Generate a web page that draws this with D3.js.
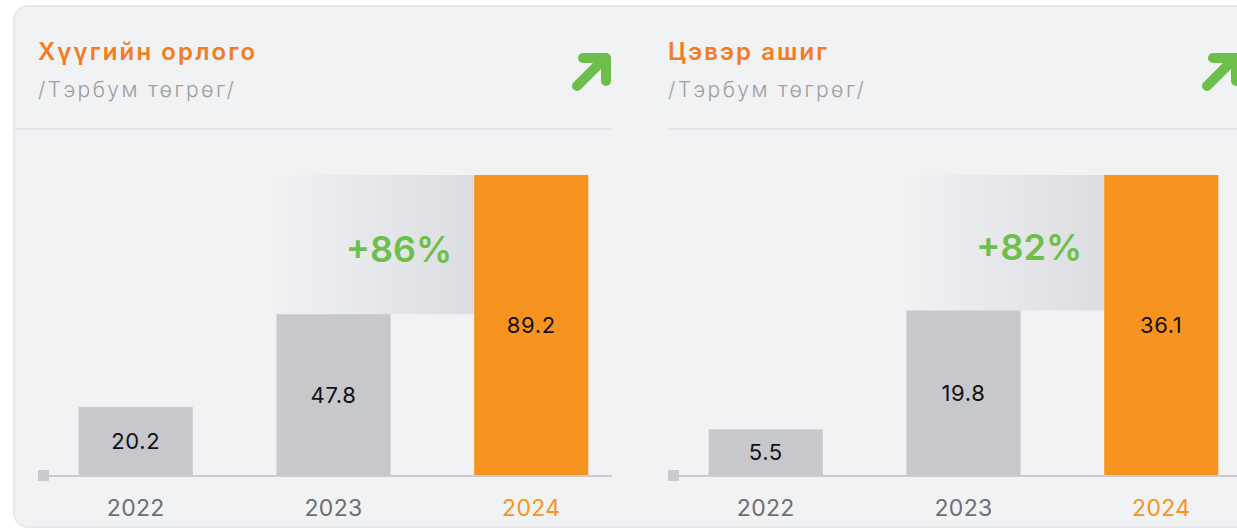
<!DOCTYPE html>
<html>
<head>
<meta charset="utf-8">
<script src="https://cdn.jsdelivr.net/npm/d3@7"></script>
<style>
  html, body { margin: 0; padding: 0; background: #fff; }
  svg { display: block; font-family: "Inter", "Open Sans", sans-serif; }
</style>
</head>
<body>
<div id="chart"></div>
<script>
var years = ["2022", "2023", "2024"];
var revenue = [20.2, 47.8, 89.2];
var profit = [5.5, 19.8, 36.1];
var titles = ["Хүүгийн орлого", "Цэвэр ашиг"];
var unitLabel = "/Тэрбум төгрөг/";
var growthLabels = ["+86%", "+82%"];

var W = 1237, H = 528;
var grey = "#c6c8cc", orange = "#f7941f", green = "#6cbf4a";

var svg = d3.select("#chart").append("svg")
    .attr("width", W)
    .attr("height", H);

var defs = svg.append("defs");

var grad = defs.append("linearGradient")
    .attr("id", "growthGrad")
    .attr("x1", "0%").attr("x2", "100%")
    .attr("y1", "0%").attr("y2", "0%");
grad.append("stop").attr("offset", "0%").attr("stop-color", "#f0f1f3");
grad.append("stop").attr("offset", "100%").attr("stop-color", "#dcdde1");

// card background
svg.append("rect")
    .attr("x", 14).attr("y", 6)
    .attr("width", W + 40).attr("height", H - 7)
    .attr("rx", 14)
    .attr("fill", "#f1f2f4")
    .attr("stroke", "#e6e8ec")
    .attr("stroke-width", 2);

var panels = [
    {x0: 38, right: 612, sepStart: 14, values: revenue},
    {x0: 668, right: W, sepStart: 668, values: profit}
];

var baseY = 475, topY = 175;

panels.forEach(function (p, i) {
    var clipId = "clip" + i;
    defs.append("clipPath").attr("id", clipId)
        .append("rect")
        .attr("x", p.sepStart).attr("y", 0)
        .attr("width", p.right - p.sepStart).attr("height", H);

    var g = svg.append("g").attr("clip-path", "url(#" + clipId + ")");

    // header
    g.append("text")
        .attr("x", p.x0).attr("y", 60)
        .attr("fill", "#f47b20")
        .attr("font-size", 24)
        .attr("font-weight", 600)
        .attr("letter-spacing", "2.1px")
        .text(titles[i]);

    g.append("text")
        .attr("x", p.x0).attr("y", 97)
        .attr("fill", "#9c9ea1")
        .attr("font-size", 21)
        .attr("font-weight", 300)
        .attr("letter-spacing", "2.4px")
        .text(unitLabel);

    // arrow icon
    var ax = p.x0 + 534;
    var arrow = g.append("g")
        .attr("fill", "none")
        .attr("stroke", green)
        .attr("stroke-width", 10)
        .attr("stroke-linecap", "round")
        .attr("stroke-linejoin", "round");
    arrow.append("path")
        .attr("d", "M" + (ax + 5) + ",86 L" + (ax + 33) + ",58");
    arrow.append("path")
        .attr("d", "M" + (ax + 11) + ",58 L" + (ax + 34) + ",58 L" + (ax + 34) + ",81");

    // separator
    g.append("line")
        .attr("x1", p.sepStart).attr("x2", p.right)
        .attr("y1", 129).attr("y2", 129)
        .attr("stroke", "#e3e5e9")
        .attr("stroke-width", 2);

    // scales
    var x = d3.scaleBand()
        .domain(years)
        .range([p.x0 + 17, p.x0 + 574])
        .paddingInner(0.423)
        .paddingOuter(0.12);

    var y = d3.scaleLinear()
        .domain([0, d3.max(p.values)])
        .range([baseY, topY]);

    // growth band between last two bars
    var prev = p.values[p.values.length - 2];
    var gx0 = x(years[1]), gx1 = x(years[2]);
    g.append("rect")
        .attr("x", gx0).attr("y", y(d3.max(p.values)))
        .attr("width", gx1 - gx0)
        .attr("height", y(prev) - y(d3.max(p.values)))
        .attr("fill", "url(#growthGrad)");

    g.append("text")
        .attr("x", gx1 - 22)
        .attr("y", (y(prev) + y(d3.max(p.values))) / 2 + 4)
        .attr("text-anchor", "end")
        .attr("dominant-baseline", "central")
        .attr("fill", green)
        .attr("font-size", 36)
        .attr("font-weight", 600)
        .text(growthLabels[i]);

    // axis line and end marker
    g.append("line")
        .attr("x1", p.x0).attr("x2", p.right)
        .attr("y1", baseY + 1).attr("y2", baseY + 1)
        .attr("stroke", "#c9cbcf")
        .attr("stroke-width", 2);
    g.append("rect")
        .attr("x", p.x0).attr("y", baseY - 5)
        .attr("width", 11).attr("height", 11)
        .attr("fill", "#c9cbcf");

    // bars
    g.selectAll(".bar")
        .data(p.values)
        .enter().append("rect")
        .attr("class", "bar")
        .attr("x", function (d, j) { return x(years[j]); })
        .attr("y", function (d) { return y(d); })
        .attr("width", x.bandwidth())
        .attr("height", function (d) { return baseY - y(d); })
        .attr("fill", function (d, j) { return j === years.length - 1 ? orange : grey; });

    g.selectAll(".val")
        .data(p.values)
        .enter().append("text")
        .attr("class", "val")
        .attr("x", function (d, j) { return x(years[j]) + x.bandwidth() / 2; })
        .attr("y", function (d) { return (y(d) + baseY) / 2; })
        .attr("text-anchor", "middle")
        .attr("dominant-baseline", "central")
        .attr("fill", "#111")
        .attr("font-size", 22)
        .attr("letter-spacing", "0.6px")
        .text(function (d) { return d.toFixed(1); });

    // year labels
    g.selectAll(".year")
        .data(years)
        .enter().append("text")
        .attr("class", "year")
        .attr("x", function (d) { return x(d) + x.bandwidth() / 2; })
        .attr("y", 516)
        .attr("text-anchor", "middle")
        .attr("fill", function (d, j) { return j === years.length - 1 ? orange : "#6d6e71"; })
        .attr("font-size", 23)
        .attr("letter-spacing", "0.3px")
        .text(function (d) { return d; });
});
</script>
</body>
</html>
